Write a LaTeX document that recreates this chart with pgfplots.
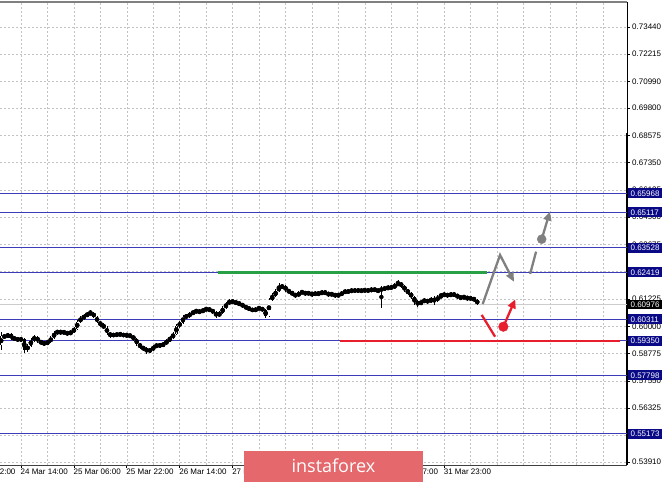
\documentclass[border=0pt]{standalone}
\usepackage{pgfplots}
\pgfplotsset{compat=1.18}
\usepackage{pgfplotstable}
\usepackage{fontspec}
\setmainfont{Liberation Sans}
\newfontfamily\wmfont{Open Sans}
\usetikzlibrary{arrows.meta}

\definecolor{lvl}{RGB}{60,60,185}
\definecolor{lvlbox}{RGB}{10,10,135}
\definecolor{gridc}{RGB}{195,195,195}
\definecolor{greenln}{RGB}{40,160,70}
\definecolor{redln}{RGB}{232,30,45}
\definecolor{arrgray}{RGB}{128,128,128}
\definecolor{wm}{RGB}{228,104,108}
\definecolor{bidc}{RGB}{205,205,205}

\tikzset{levelbox/.style={anchor=west, fill=lvlbox, text=white, inner xsep=2.6pt, inner ysep=2pt,
    text height=5.8pt, text depth=0pt, xshift=0.8pt, font=\fontsize{8}{9}\selectfont}}

% hourly candles, x = bar number (0 = 24 Mar 14:00)
\pgfplotstableread{
x o h l c
-6 0.5916 0.5974 0.5894 0.5956
-5 0.5956 0.5965 0.5943 0.5952
-4 0.5952 0.5970 0.5947 0.5965
-3 0.5965 0.5970 0.5939 0.5947
-2 0.5947 0.5956 0.5934 0.5943
-1 0.5943 0.5952 0.5930 0.5939
0 0.5939 0.5952 0.5930 0.5943
1 0.5943 0.5947 0.5880 0.5894
2 0.5894 0.5921 0.5885 0.5912
3 0.5912 0.5947 0.5907 0.5939
4 0.5939 0.5961 0.5930 0.5952
5 0.5952 0.5956 0.5925 0.5934
6 0.5934 0.5939 0.5916 0.5925
7 0.5925 0.5934 0.5912 0.5921
8 0.5921 0.5939 0.5916 0.5930
9 0.5930 0.5956 0.5925 0.5947
10 0.5947 0.5979 0.5943 0.5970
11 0.5970 0.5983 0.5961 0.5979
12 0.5979 0.5983 0.5961 0.5970
13 0.5970 0.5983 0.5965 0.5974
14 0.5974 0.5979 0.5956 0.5965
15 0.5965 0.5983 0.5961 0.5974
16 0.5974 0.5997 0.5970 0.5988
17 0.5988 0.6028 0.5983 0.6019
18 0.6019 0.6046 0.6015 0.6037
19 0.6037 0.6055 0.6028 0.6046
20 0.6046 0.6064 0.6042 0.6055
21 0.6055 0.6073 0.6051 0.6060
22 0.6060 0.6064 0.6037 0.6042
23 0.6042 0.6046 0.6015 0.6019
24 0.6019 0.6024 0.5997 0.6006
25 0.6006 0.6015 0.5988 0.5992
26 0.5992 0.6001 0.5961 0.5970
27 0.5970 0.5974 0.5947 0.5956
28 0.5956 0.5970 0.5952 0.5965
29 0.5965 0.5970 0.5952 0.5961
30 0.5961 0.5974 0.5956 0.5965
31 0.5965 0.5970 0.5952 0.5956
32 0.5956 0.5970 0.5952 0.5961
33 0.5961 0.5965 0.5947 0.5956
34 0.5956 0.5961 0.5934 0.5943
35 0.5943 0.5947 0.5912 0.5921
36 0.5921 0.5925 0.5898 0.5907
37 0.5907 0.5912 0.5889 0.5898
38 0.5898 0.5907 0.5876 0.5889
39 0.5889 0.5903 0.5880 0.5894
40 0.5894 0.5916 0.5889 0.5907
41 0.5907 0.5925 0.5903 0.5916
42 0.5916 0.5925 0.5903 0.5912
43 0.5912 0.5930 0.5907 0.5921
44 0.5921 0.5943 0.5916 0.5934
45 0.5934 0.5956 0.5930 0.5947
46 0.5947 0.5974 0.5943 0.5965
47 0.5965 0.6010 0.5961 0.6001
48 0.6001 0.6024 0.5992 0.6015
49 0.6015 0.6051 0.6010 0.6042
50 0.6042 0.6055 0.6033 0.6046
51 0.6046 0.6064 0.6037 0.6055
52 0.6055 0.6073 0.6051 0.6064
53 0.6064 0.6078 0.6060 0.6069
54 0.6069 0.6073 0.6055 0.6064
55 0.6064 0.6082 0.6060 0.6073
56 0.6073 0.6087 0.6069 0.6078
57 0.6078 0.6082 0.6064 0.6073
58 0.6073 0.6078 0.6055 0.6064
59 0.6064 0.6069 0.6037 0.6046
60 0.6046 0.6069 0.6042 0.6060
61 0.6060 0.6091 0.6055 0.6082
62 0.6082 0.6109 0.6078 0.6100
63 0.6100 0.6123 0.6096 0.6114
64 0.6114 0.6118 0.6100 0.6109
65 0.6109 0.6114 0.6096 0.6105
66 0.6105 0.6109 0.6091 0.6100
67 0.6100 0.6105 0.6082 0.6091
68 0.6091 0.6096 0.6073 0.6082
69 0.6082 0.6087 0.6069 0.6078
70 0.6078 0.6082 0.6064 0.6069
71 0.6069 0.6087 0.6064 0.6078
72 0.6078 0.6091 0.6073 0.6082
73 0.6082 0.6087 0.6064 0.6073
74 0.6073 0.6078 0.6037 0.6046
75 0.6046 0.6127 0.6042 0.6118
76 0.6118 0.6150 0.6114 0.6136
77 0.6136 0.6167 0.6132 0.6158
78 0.6158 0.6194 0.6154 0.6176
79 0.6176 0.6190 0.6167 0.6181
80 0.6181 0.6185 0.6154 0.6163
81 0.6163 0.6167 0.6145 0.6154
82 0.6154 0.6158 0.6136 0.6145
83 0.6145 0.6150 0.6127 0.6136
84 0.6136 0.6158 0.6132 0.6150
85 0.6150 0.6163 0.6145 0.6154
86 0.6154 0.6158 0.6136 0.6145
87 0.6145 0.6158 0.6141 0.6150
88 0.6150 0.6154 0.6132 0.6141
89 0.6141 0.6158 0.6136 0.6150
90 0.6150 0.6154 0.6136 0.6145
91 0.6145 0.6163 0.6141 0.6154
92 0.6154 0.6158 0.6141 0.6150
93 0.6150 0.6154 0.6132 0.6141
94 0.6141 0.6154 0.6136 0.6145
95 0.6145 0.6150 0.6127 0.6136
96 0.6136 0.6150 0.6132 0.6141
97 0.6141 0.6158 0.6136 0.6150
98 0.6150 0.6167 0.6145 0.6158
99 0.6158 0.6163 0.6150 0.6154
100 0.6154 0.6172 0.6150 0.6163
101 0.6163 0.6167 0.6154 0.6158
102 0.6158 0.6167 0.6154 0.6163
103 0.6163 0.6167 0.6150 0.6158
104 0.6158 0.6172 0.6154 0.6163
105 0.6163 0.6167 0.6154 0.6158
106 0.6158 0.6176 0.6154 0.6167
107 0.6167 0.6172 0.6154 0.6163
108 0.6163 0.6167 0.6150 0.6158
109 0.6158 0.6181 0.6082 0.6172
110 0.6172 0.6181 0.6158 0.6167
111 0.6167 0.6185 0.6163 0.6176
112 0.6176 0.6185 0.6163 0.6172
113 0.6172 0.6194 0.6167 0.6185
114 0.6185 0.6208 0.6181 0.6194
115 0.6194 0.6199 0.6172 0.6181
116 0.6181 0.6185 0.6154 0.6163
117 0.6163 0.6167 0.6141 0.6150
118 0.6150 0.6154 0.6123 0.6132
119 0.6132 0.6136 0.6096 0.6109
120 0.6109 0.6118 0.6087 0.6100
121 0.6100 0.6118 0.6096 0.6109
122 0.6109 0.6127 0.6105 0.6118
123 0.6118 0.6123 0.6100 0.6109
124 0.6109 0.6132 0.6105 0.6123
125 0.6123 0.6136 0.6096 0.6114
126 0.6114 0.6141 0.6109 0.6132
127 0.6132 0.6150 0.6127 0.6136
128 0.6136 0.6154 0.6132 0.6145
129 0.6145 0.6150 0.6127 0.6136
130 0.6136 0.6154 0.6132 0.6145
131 0.6145 0.6150 0.6132 0.6141
132 0.6141 0.6145 0.6123 0.6132
133 0.6132 0.6136 0.6118 0.6127
134 0.6127 0.6141 0.6123 0.6132
135 0.6132 0.6136 0.6114 0.6123
136 0.6123 0.6132 0.6118 0.6127
137 0.6127 0.6132 0.6109 0.6118
138 0.6118 0.6123 0.6096 0.6100
}\candles

\begin{document}
\begin{tikzpicture}
\path[use as bounding box] (0,-17pt) rectangle (665pt,465pt);
\fill[white] (0,-17pt) rectangle (665pt,465pt);
\begin{axis}[
    at={(0,0)}, anchor=south west,
    scale only axis, width=627pt, height=463pt,
    xmin=-6.35, xmax=183.3,
    ymin=0.5377, ymax=0.7456,
    clip=false,
    axis line style={draw=none},
    xtick={0,16,...,128},
    xticklabels={24 Mar 14:00, 25 Mar 06:00, 25 Mar 22:00, 26 Mar 14:00, 27 Mar 06:00, 27 Mar 22:00, 30 Mar 15:00, 31 Mar 07:00, 31 Mar 23:00},
    minor xtick={-8,8,...,168},
    extra x ticks={144,160,176},
    extra x tick labels={},
    extra x tick style={major tick length=0pt},
    ytick={0.5391,0.551,0.56325,0.5755,0.58775,0.6,0.61225,0.6245,0.63675,0.649,0.66125,0.6735,0.68575,0.698,0.7099,0.72215,0.7344},
    yticklabels={0.53910,0.55100,0.56325,0.57550,0.58775,0.60000,0.61225,0.62450,0.63675,0.64900,0.66125,0.67350,0.68575,0.69800,0.70990,0.72215,0.73440},
    xtick pos=bottom, ytick pos=right,
    yticklabel pos=right,
    tick align=outside,
    major tick length=3pt, minor tick length=0pt,
    tick style={black, line width=0.6pt},
    xmajorgrids, xminorgrids, ymajorgrids,
    grid style={gridc, dash pattern=on 2pt off 2pt, line width=0.5pt},
    xticklabel style={anchor=north west, inner sep=0pt, yshift=-1pt, xshift=-0.5pt, font=\fontsize{8}{9}\selectfont},
    yticklabel style={anchor=west, inner sep=0pt, xshift=2pt, font=\fontsize{8}{9}\selectfont},
]
% frame
\draw[gray, line width=1.5pt] (rel axis cs:0,1) -- (rel axis cs:1,1);
\draw[black!75, line width=0.8pt] (rel axis cs:0,0) -- (rel axis cs:1,0);
\draw[black, line width=0.8pt] (rel axis cs:1,0) -- (rel axis cs:1,1);
\draw[black, line width=2pt] (axis cs:183.3,0.5377) -- (axis cs:183.3,0.6868);

% bid line
\addplot[bidc, line width=1.3pt] coordinates {(-6.35,0.60976) (183.3,0.60976)};

% support / resistance levels
\pgfplotsinvokeforeach{0.65968,0.65117,0.63528,0.62419,0.60311,0.59350,0.57798,0.55173}{
  \addplot[lvl, line width=0.8pt] coordinates {(-6.35,#1) (183.3,#1)};
  \node[levelbox] at (axis cs:183.3,#1) {#1};
}
\node[levelbox, fill=black] at (axis cs:183.3,0.60976) {0.60976};

% candles: wicks, bodies, hollow bull bodies
\addplot[only marks, mark=none, error bars/.cd, y dir=both, y explicit, error mark=none,
    error bar style={black, line width=0.5pt}]
  table[x=x, y expr={(\thisrow{h}+\thisrow{l})/2}, y error expr={(\thisrow{h}-\thisrow{l})/2}] {\candles};
\addplot[only marks, mark=none, error bars/.cd, y dir=both, y explicit, error mark=none,
    error bar style={black, line width=2.5pt}]
  table[x=x, y expr={(\thisrow{o}+\thisrow{c})/2}, y error expr={max(abs(\thisrow{o}-\thisrow{c})/2,0.0001)}] {\candles};
\addplot[only marks, mark=none, error bars/.cd, y dir=both, y explicit, error mark=none,
    error bar style={white, line width=1.1pt}]
  table[x=x, y expr={(\thisrow{o}+\thisrow{c})/2}, y error expr={max((\thisrow{c}-\thisrow{o})/2-0.0002,0)}] {\candles};

% drawn levels
\addplot[greenln, line width=2.5pt] coordinates {(59.6,0.62419) (141,0.62419)};
\addplot[redln, line width=2.2pt] coordinates {(96.5,0.5935) (181.2,0.5935)};

% forecast arrows
\addplot[arrgray, line width=2.3pt, -{Triangle[length=9pt,width=8pt]}] coordinates {(139.65,0.6100) (144.9,0.6320) (149.1,0.6200)};
\addplot[arrgray, line width=2.3pt] coordinates {(154.0,0.6235) (155.8,0.6335)};
\addplot[arrgray, line width=2.3pt, -{Triangle[length=9pt,width=8pt]}] coordinates {(157.5,0.6391) (160.0,0.6515)};
\addplot[arrgray, only marks, mark=*, mark size=4.5pt] coordinates {(157.5,0.6391)};
\addplot[redln, line width=2.3pt] coordinates {(139.35,0.6051) (143.4,0.5953)};
\addplot[redln, line width=2.3pt, -{Triangle[length=9pt,width=8pt]}] coordinates {(145.9,0.5998) (149.5,0.6121)};
\addplot[redln, only marks, mark=*, mark size=4.8pt] coordinates {(145.9,0.5998)};

% first, cut-off time label
\node[anchor=north west, inner sep=0pt, font=\fontsize{8}{9}\selectfont] at (axis cs:-16,0.5377) [yshift=-4pt] {23 Mar 22:00};

\coordinate (wmA) at (axis cs:67.5,0.54414);
\coordinate (wmB) at (axis cs:121.5,0.5300);
\coordinate (wmC) at (axis cs:94.5,0.5373);
\end{axis}
\fill[wm] (wmA) rectangle (wmB);
\node[text=white, font=\wmfont\fontsize{18}{20}\selectfont] at (wmC) {instaforex};
\end{tikzpicture}
\end{document}
